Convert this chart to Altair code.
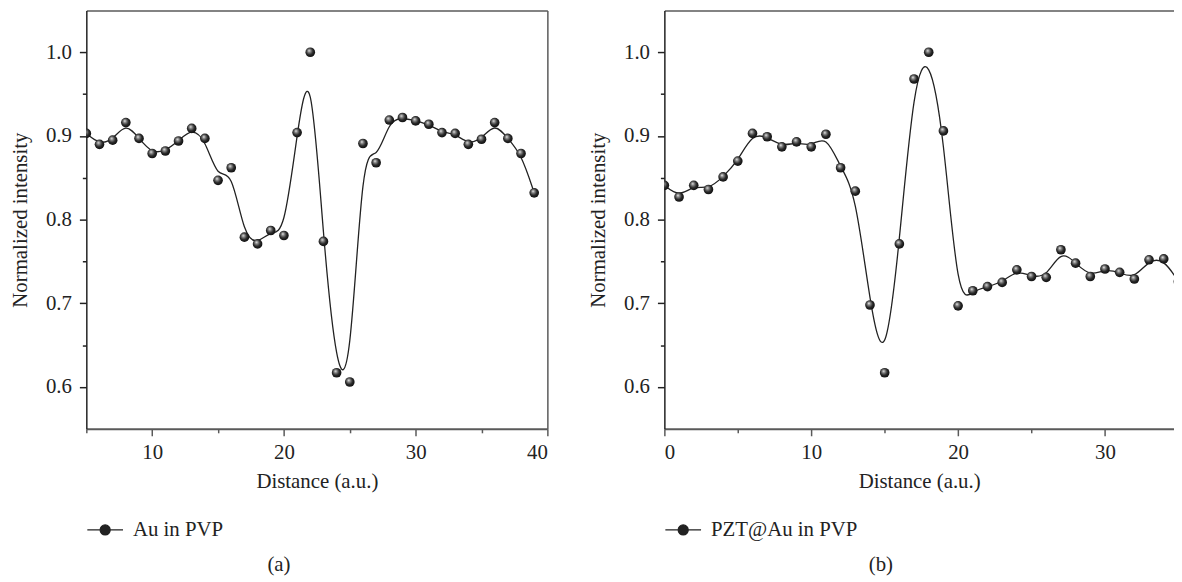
import altair as alt
import pandas as pd

# ---- data ----
left_x = list(range(5, 40))
left_y = [0.903, 0.890, 0.895, 0.916, 0.897, 0.879, 0.882, 0.894, 0.909, 0.897,
          0.847, 0.862, 0.779, 0.771, 0.787, 0.781, 0.904, 1.000, 0.774, 0.617,
          0.606, 0.891, 0.868, 0.919, 0.922, 0.918, 0.914, 0.904, 0.903, 0.890,
          0.896, 0.916, 0.897, 0.879, 0.832]
right_x = list(range(0, 36))
right_y = [0.841, 0.827, 0.841, 0.836, 0.851, 0.870, 0.903, 0.899, 0.887, 0.893,
           0.887, 0.902, 0.862, 0.834, 0.698, 0.617, 0.771, 0.968, 1.000, 0.906,
           0.697, 0.715, 0.720, 0.725, 0.740, 0.732, 0.731, 0.764, 0.748, 0.732,
           0.741, 0.737, 0.729, 0.752, 0.753, 0.726]
left_label = "Au in PVP"
right_label = "PZT@Au in PVP"
left_caption = "(a)"
right_caption = "(b)"
x_title = "Distance (a.u.)"
y_title = "Normalized intensity"
x_major_left = [10, 20, 30, 40]
x_minor_left = [5, 15, 25, 35]
x_major_right = [0, 10, 20, 30]
x_minor_right = [5, 15, 25]
y_major = [0.6, 0.7, 0.8, 0.9, 1.0]
y_minor = [0.65, 0.75, 0.85, 0.95]

FONT = "Liberation Serif"
FS = 21
INK = "#222222"
GRAY = "#5a5a5a"

BALL = {
    "gradient": "radial",
    "x1": 0.38, "y1": 0.32, "r1": 0.0,
    "x2": 0.45, "y2": 0.45, "r2": 0.6,
    "stops": [
        {"offset": 0.0, "color": "#f2f2f2"},
        {"offset": 0.25, "color": "#8a8a8a"},
        {"offset": 0.6, "color": "#2a2a2a"},
        {"offset": 1.0, "color": "#0a0a0a"},
    ],
}
SYMBOL = ("M-1,0L-0.28,0M0.28,0L1,0"
          "M0.28,0A0.28,0.28,0,1,1,-0.28,0A0.28,0.28,0,1,1,0.28,0Z")


def panel(xs, ys, label, xdom, width, xmaj, xmin, caption, right_border):
    df = pd.DataFrame({"x": xs, "y": ys, "series": [label] * len(xs)})
    xsc = alt.Scale(domain=xdom, nice=False, zero=False)
    ysc = alt.Scale(domain=[0.55, 1.05], nice=False, zero=False)
    base = alt.Chart(df)

    line = base.mark_line(interpolate="basis", strokeWidth=1.3, clip=True).encode(
        x=alt.X("x:Q", scale=xsc, axis=alt.Axis(
            orient="bottom", values=xmaj, format="d", title=x_title,
            tickSize=7, tickWidth=1.5, tickColor=GRAY,
            domainColor=GRAY, domainWidth=2, labelPadding=6, titlePadding=8)),
        y=alt.Y("y:Q", scale=ysc, axis=alt.Axis(
            orient="left", values=y_major, format=".1f", title=y_title,
            tickSize=7, tickWidth=1.5, tickColor=INK,
            domainColor=INK, domainWidth=1.5, labelPadding=8, titlePadding=15)),
        color=alt.Color("series:N", scale=alt.Scale(domain=[label], range=[INK]),
                        legend=alt.Legend(
                            orient="none", legendX=0, legendY=505,
                            title=None, symbolType=SYMBOL, symbolSize=1296,
                            symbolFillColor=INK, symbolStrokeColor=INK,
                            symbolStrokeWidth=1.3, labelFont=FONT,
                            labelFontSize=FS, labelColor=INK, labelOffset=9)),
    )
    pts = base.mark_point(filled=True, size=95, fill=BALL, strokeWidth=0,
                          opacity=1, clip=True).encode(
        x=alt.X("x:Q", scale=xsc, axis=alt.Axis(
            orient="bottom", values=xmin, labels=False, title=None, domain=False,
            tickSize=4, tickWidth=1.5, tickColor=GRAY)),
        y=alt.Y("y:Q", scale=ysc, axis=alt.Axis(
            orient="left", values=y_minor, labels=False, title=None, domain=False,
            tickSize=4, tickWidth=1.5, tickColor=INK)),
    )
    if right_border:
        yframe = alt.Y("y:Q", scale=ysc, axis=alt.Axis(
            orient="right", labels=False, ticks=False, title=None,
            domainColor=GRAY, domainWidth=1.5))
    else:
        yframe = alt.Y("y:Q", scale=ysc, axis=None)
    frame = base.mark_point(opacity=0, clip=True).encode(
        x=alt.X("x:Q", scale=xsc, axis=alt.Axis(
            orient="top", labels=False, ticks=False, title=None,
            domainColor=GRAY, domainWidth=1.5)),
        y=yframe,
    )
    return alt.layer(line, pts, frame).resolve_axis(
        x="independent", y="independent"
    ).properties(
        width=width, height=422,
        title=alt.TitleParams(caption, orient="bottom", anchor="middle",
                              frame="bounds", font=FONT, fontSize=FS,
                              fontWeight="normal", color=INK, offset=14),
    )


left = panel(left_x, left_y, left_label, [5, 40], 465,
             x_major_left, x_minor_left, left_caption, True)
right = panel(right_x, right_y, right_label, [0, 34.7], 514,
              x_major_right, x_minor_right, right_caption, False)

chart = alt.hconcat(left, right, spacing=39).resolve_scale(
    color="independent"
).properties(
    padding={"left": 1, "top": 0, "right": 0, "bottom": 0}
).configure_view(stroke=None).configure_axis(
    labelFont=FONT, labelFontSize=FS, labelColor=INK,
    titleFont=FONT, titleFontSize=FS, titleFontWeight="normal", titleColor=INK,
    grid=False,
)

chart.save("out.html", embed_options={"renderer": "svg", "actions": False})
